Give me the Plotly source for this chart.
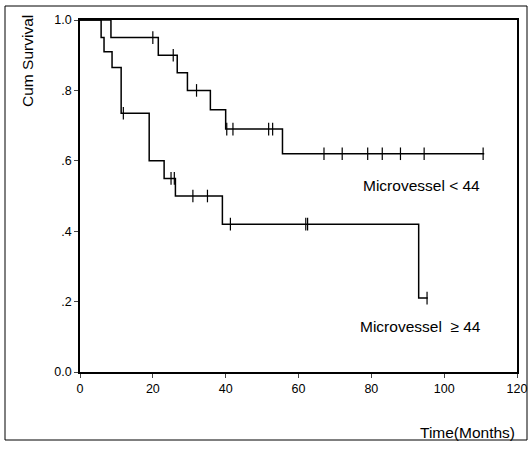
import plotly.graph_objects as go

# Kaplan-Meier steps
low_t = [0, 8.5, 21.5, 26.7, 29.5, 35.8, 40.0, 55.6, 111]
low_s = [1.0, 0.95, 0.90, 0.85, 0.80, 0.745, 0.69, 0.62, 0.62]
low_cens_t = [20, 25.6, 32, 40.3, 42, 51.8, 52.9, 67, 72, 79, 83, 88, 94.5, 110.7]

high_t = [0, 5.8, 6.6, 8.8, 11.3, 19.0, 23.1, 26.2, 39.1, 93.0, 95.5]
high_s = [1.0, 0.95, 0.91, 0.865, 0.735, 0.60, 0.55, 0.50, 0.42, 0.21, 0.21]
high_cens_t = [11.9, 25, 25.9, 31, 35, 41.3, 62, 62.5, 95.3]


def surv_at(ts, ss, t):
    val = ss[0]
    for a, b in zip(ts, ss):
        if a <= t:
            val = b
    return val


fig = go.Figure()
for ts, ss, cens in [(low_t, low_s, low_cens_t), (high_t, high_s, high_cens_t)]:
    fig.add_trace(go.Scatter(x=ts, y=ss, mode='lines', line_shape='hv',
                             line=dict(color='black', width=1.5),
                             cliponaxis=False))
    fig.add_trace(go.Scatter(x=cens, y=[surv_at(ts, ss, c) for c in cens],
                             mode='markers', cliponaxis=False,
                             marker=dict(symbol='line-ns', size=9,
                                         line=dict(color='black', width=1.2))))

axis_font = dict(family='Liberation Sans', size=12.5, color='black')
fig.update_xaxes(range=[0, 120], tickvals=[0, 20, 40, 60, 80, 100, 120],
                 ticks='outside', ticklen=4, showgrid=False, zeroline=False,
                 showline=True, linecolor='black', linewidth=1.5, mirror=True,
                 tickfont=axis_font, automargin=False)
fig.update_yaxes(range=[0, 1.0], tickvals=[0, 0.2, 0.4, 0.6, 0.8, 1.0],
                 ticktext=['0.0', '.2', '.4', '.6', '.8', '1.0'],
                 ticks='outside', ticklen=4, showgrid=False, zeroline=False,
                 showline=True, linecolor='black', linewidth=1.5, mirror=True,
                 tickfont=axis_font, automargin=False)

text_font = dict(family='Liberation Sans', size=15.5, color='black')
fig.update_layout(
    width=531, height=450, showlegend=False,
    margin=dict(l=80, r=14, t=20, b=78),
    plot_bgcolor='white', paper_bgcolor='white',
    shapes=[dict(type='rect', xref='paper', yref='paper',
                 x0=-75 / 437, x1=1 + 10 / 437, y0=-68 / 352, y1=1 + 14 / 352,
                 line=dict(color='black', width=1))],
    annotations=[
        dict(text='Cum Survival', textangle=-90, xref='paper', yref='paper',
             x=-52 / 437, y=1.02, xanchor='center', yanchor='top',
             showarrow=False, font=text_font),
        dict(text='Time(Months)', xref='paper', yref='paper',
             x=1.0, y=-50 / 352, xanchor='right', yanchor='top',
             showarrow=False, font=text_font),
        dict(text='Microvessel < 44', x=93.7, y=0.53, showarrow=False,
             font=text_font),
        dict(text='Microvessel  ≥ 44', x=93.5, y=0.13, showarrow=False,
             font=text_font),
    ])

# drop the default page margin so the chart sits at the window's corner
fig.write_html('out.html', config={'displayModeBar': False},
               post_script="document.body.style.margin='0';")
